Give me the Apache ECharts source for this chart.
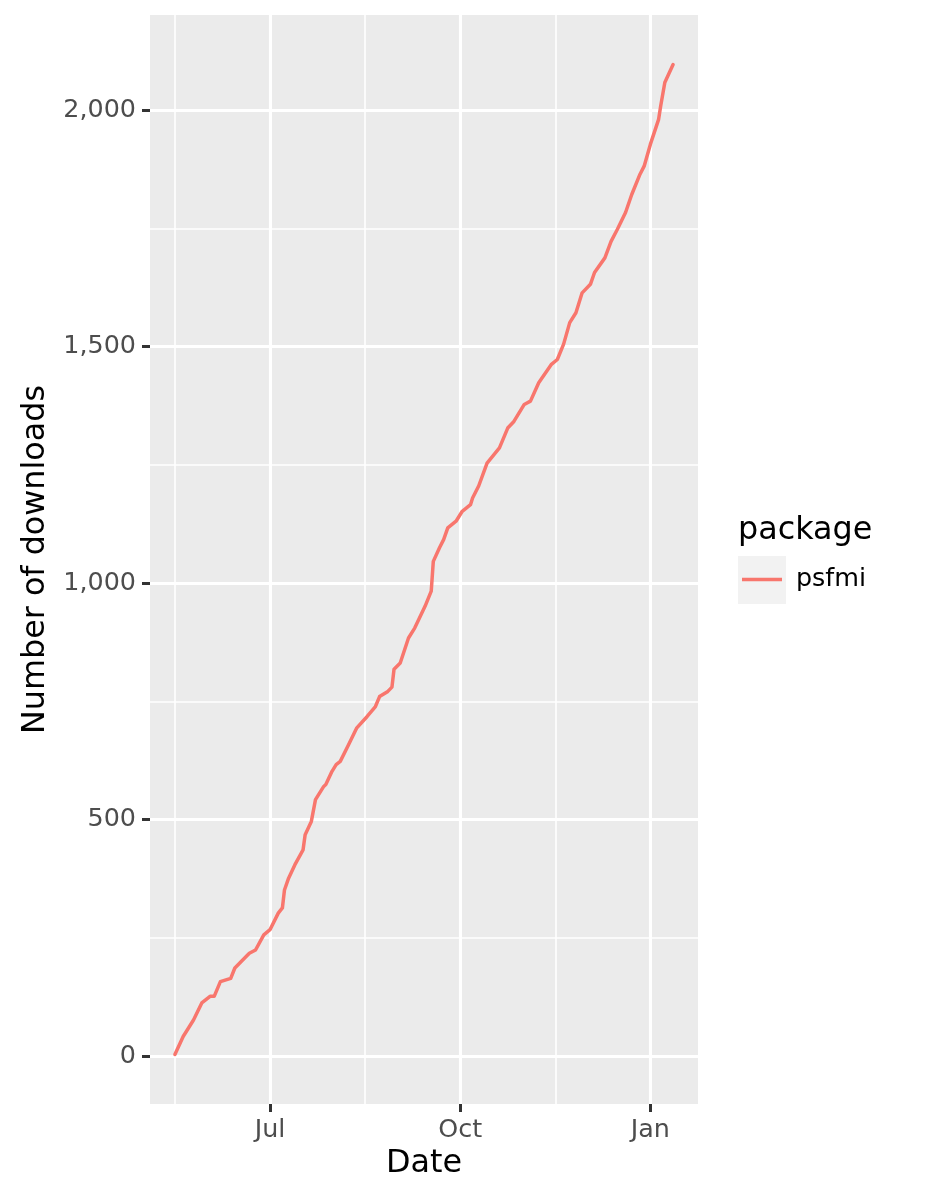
<!DOCTYPE html>
<html>
<head>
<meta charset="utf-8">
<script src="https://cdn.jsdelivr.net/npm/echarts@6/dist/echarts.min.js"></script>
<style>
html,body{margin:0;padding:0;background:#fff;}
#chart{width:930px;height:1200px;}
</style>
</head>
<body>
<div id="chart"></div>
<script>
// ---- data ----
const dates = [
 '2019-05-16','2019-05-20','2019-05-25','2019-05-29','2019-06-02','2019-06-04','2019-06-07','2019-06-12','2019-06-14','2019-06-21',
 '2019-06-24','2019-06-28','2019-07-01','2019-07-05','2019-07-07','2019-07-08','2019-07-10','2019-07-13','2019-07-17','2019-07-18',
 '2019-07-21','2019-07-23','2019-07-27','2019-07-28','2019-07-31','2019-08-02','2019-08-04','2019-08-08','2019-08-12','2019-08-17',
 '2019-08-21','2019-08-23','2019-08-27','2019-08-29','2019-08-30','2019-09-02','2019-09-06','2019-09-09','2019-09-14','2019-09-17',
 '2019-09-18','2019-09-21','2019-09-23','2019-09-25','2019-09-29','2019-10-02','2019-10-06','2019-10-07','2019-10-10','2019-10-14',
 '2019-10-20','2019-10-24','2019-10-27','2019-11-01','2019-11-04','2019-11-08','2019-11-14','2019-11-17','2019-11-20','2019-11-23',
 '2019-11-26','2019-11-29','2019-12-03','2019-12-05','2019-12-10','2019-12-13','2019-12-16','2019-12-20','2019-12-23','2019-12-27',
 '2019-12-29','2020-01-01','2020-01-05','2020-01-06','2020-01-08','2020-01-12'
];
const downloads = [
 3,41,76,112,126,126,157,164,186,217,
 224,256,267,302,313,351,376,404,436,468,
 496,542,570,574,602,616,623,658,694,718,
 739,760,771,780,818,831,884,905,951,983,
 1046,1075,1092,1117,1131,1152,1166,1180,1206,1254,
 1286,1328,1342,1378,1385,1424,1462,1473,1505,1551,
 1572,1614,1632,1657,1688,1723,1748,1784,1822,1865,
 1882,1928,1981,2009,2059,2097
];
const seriesName = 'psfmi';
const legendTitle = 'package';
const xTickDates = ['2019-07-01','2019-10-01','2020-01-01'];
const xTickLabels = ['Jul','Oct','Jan'];
const yTicks = [0,500,1000,1500,2000];
const yMinorTicks = [250,750,1250,1750];

// ---- helpers ----
const DAY = 86400000;
const origin = Date.UTC(2019,6,1);
function dayNum(s){const p=s.split('-').map(Number);return (Date.UTC(p[0],p[1]-1,p[2])-origin)/DAY;}
const xs = dates.map(dayNum);
const xTickVals = xTickDates.map(dayNum);
const xStep = xTickVals[1]-xTickVals[0];
const xMinorVals = [xTickVals[0]-xStep/2, (xTickVals[0]+xTickVals[1])/2, (xTickVals[1]+xTickVals[2])/2];
const xMin0 = Math.min(...xs), xMax0 = Math.max(...xs);
const xPad = (xMax0-xMin0)*0.05;
const yMin0 = Math.min(...downloads), yMax0 = Math.max(...downloads);
const yPad = (yMax0-yMin0)*0.05;
const xMin = xMin0-xPad, xMax = xMax0+xPad, yMin = yMin0-yPad, yMax = yMax0+yPad;

const FONT = 'DejaVu Sans';
const chart = echarts.init(document.getElementById('chart'), null, {renderer:'canvas'});
const noLine = {show:false,onZero:false};
const option = {
  animation:false,
  backgroundColor:'#FFFFFF',
  textStyle:{fontFamily:FONT},
  grid:{left:150,right:232,top:15,bottom:96,show:true,backgroundColor:'#EBEBEB',borderWidth:0,containLabel:false},
  xAxis:[
    {type:'value',min:xMin,max:xMax,
     name:'Date',nameLocation:'middle',nameGap:44,
     nameTextStyle:{fontSize:31.8,color:'#000000',fontFamily:FONT},
     axisLine:noLine,
     axisTick:{show:true,length:8,customValues:xTickVals,lineStyle:{color:'#333333',width:3}},
     axisLabel:{show:true,margin:14,fontSize:25.4,color:'#4D4D4D',fontFamily:FONT,customValues:xTickVals,
       formatter:(v)=>{const i=xTickVals.indexOf(v);return i>=0?xTickLabels[i]:'';}},
     splitLine:{show:true,lineStyle:{color:'#FFFFFF',width:3.1}}},
    {type:'value',min:xMin,max:xMax,position:'bottom',
     axisLine:noLine,axisLabel:{show:false},
     axisTick:{show:false,customValues:xMinorVals},
     splitLine:{show:true,lineStyle:{color:'#FFFFFF',width:1.55}}}
  ],
  yAxis:[
    {type:'value',min:yMin,max:yMax,
     name:'Number of downloads',nameLocation:'middle',nameGap:98,
     nameTextStyle:{fontSize:31.8,color:'#000000',fontFamily:FONT},
     axisLine:noLine,
     axisTick:{show:true,length:8,customValues:yTicks,lineStyle:{color:'#333333',width:3}},
     axisLabel:{show:true,margin:14,fontSize:25.4,color:'#4D4D4D',fontFamily:FONT,customValues:yTicks,
       formatter:(v)=>Number(v).toLocaleString('en-US')},
     splitLine:{show:true,lineStyle:{color:'#FFFFFF',width:3.1}}},
    {type:'value',min:yMin,max:yMax,position:'left',
     axisLine:noLine,axisLabel:{show:false},
     axisTick:{show:false,customValues:yMinorTicks},
     splitLine:{show:true,lineStyle:{color:'#FFFFFF',width:1.55}}}
  ],
  legend:{
    show:true,left:742,top:567,orient:'vertical',padding:0,
    icon:'rect',itemWidth:40,itemHeight:3.4,
    data:[seriesName],
    textStyle:{fontSize:25.4,color:'#000000',fontFamily:FONT,padding:[0,0,0,9]}
  },
  graphic:[
    {type:'rect',left:738,top:556,z:-1,silent:true,shape:{width:48,height:48},style:{fill:'#F2F2F2'}},
    {type:'text',left:738,top:515,silent:true,style:{text:legendTitle,fontSize:31.8,fill:'#000000',fontFamily:FONT}}
  ],
  series:[
    {type:'line',name:seriesName,xAxisIndex:0,yAxisIndex:0,
     data:xs.map((x,i)=>[x,downloads[i]]),
     symbol:'none',showSymbol:false,
     lineStyle:{color:'#F8766D',width:3.5,join:'round',cap:'round'},itemStyle:{color:'#F8766D'},
     z:5}
  ]
};
chart.setOption(option);
</script>
</body>
</html>
